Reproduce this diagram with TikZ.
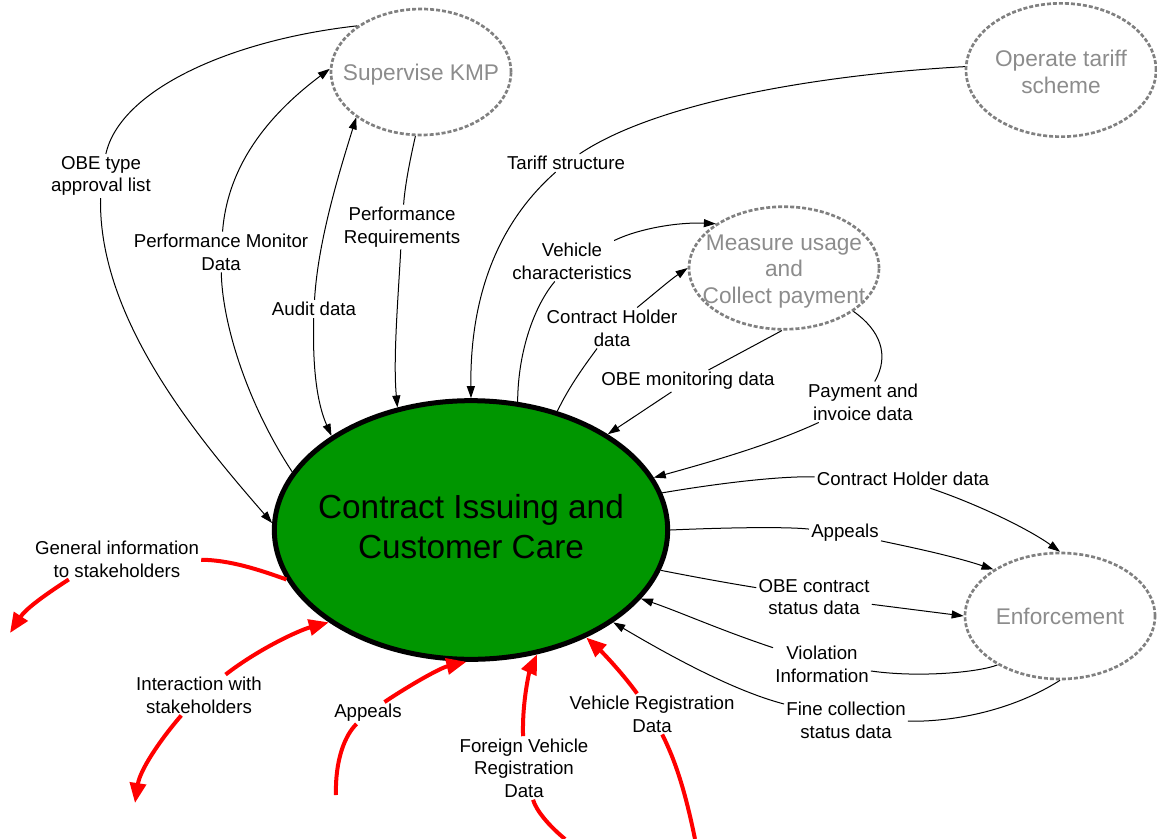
\documentclass[tikz,border=0pt]{standalone}
\usepackage{fontspec}
\setmainfont{Liberation Sans}
\usetikzlibrary{shapes.geometric,arrows.meta}
\definecolor{procgreen}{RGB}{0,150,0}
\definecolor{extgray}{RGB}{128,128,128}
\definecolor{exttext}{RGB}{140,140,140}
\newcommand{\inbox}[1]{\makebox[0pt]{\begin{tabular}{@{}c@{}}#1\end{tabular}}}
\newcommand{\extbox}[1]{\inbox{\rule{0pt}{19pt}#1}}
\tikzstyle{proc}=[draw, ellipse, line width=3.75pt, fill=procgreen, inner sep=0pt, minimum width=295pt, minimum height=194pt, font=\fontsize{25}{30}\selectfont]
\tikzstyle{ext}=[draw=extgray, ellipse, line width=2pt, dash pattern=on 3pt off 1.5pt, text=exttext, inner sep=0pt, minimum width=142.5pt, font=\fontsize{17}{20}\selectfont]
\tikzstyle{lab}=[inner sep=1.5pt, align=center, font=\fontsize{14}{17}\selectfont]
\tikzstyle{flow}=[line width=0.75pt]
\tikzstyle{rflow}=[red, line width=3pt, >={Triangle[length=15pt,width=12pt]}]

\begin{document}
\begin{tikzpicture}[x=0.75pt,y=0.75pt,>={Triangle[length=9pt,width=6pt]}]
\useasboundingbox (0,0) rectangle (1157,-839);

% processes
\node[proc] (main) at (471,-530) {\inbox{Contract Issuing and\\Customer Care}};
\node[ext, minimum width=135pt, minimum height=94.5pt] (kmp) at (421,-72) {\extbox{Supervise KMP}};
\node[ext, minimum height=100pt] (tariff) at (1061,-70) {\inbox{\rule{0pt}{21pt}Operate tariff\\scheme}};
\node[ext, minimum height=91pt] (meas) at (784,-268) {\extbox{Measure usage\\and\\Collect payment}};
\node[ext, minimum height=94.5pt] (enf) at (1060,-616) {\extbox{Enforcement}};

% flow labels
\node[lab] (lobe) at (101,-176) {OBE type\\approval list};
\node[lab] (lpmd) at (221,-252) {Performance Monitor\\Data};
\node[lab] (laud) at (314,-309) {Audit data};
\node[lab] (lpreq) at (402,-227) {Performance\\Requirements};
\node[lab] (ltar) at (566,-163) {Tariff structure};
\node[lab] (lveh) at (572,-261) {Vehicle\\characteristics};
\node[lab] (lchm) at (612,-328) {Contract Holder\\data};
\node[lab] (lobem) at (688,-381) {OBE monitoring data};
\node[lab] (lpay) at (863,-402) {Payment and\\invoice data};
\node[lab] (lche) at (903,-479) {Contract Holder data};
\node[lab] (lape) at (845,-533) {Appeals};
\node[lab] (lobec) at (814,-597) {OBE contract\\status data};
\node[lab] (lvio) at (822,-664) {Violation\\Information};
\node[lab] (lfine) at (846,-720) {Fine collection\\status data};
\node[lab] (lgen) at (117,-559) {General information\\to stakeholders};
\node[lab] (lint) at (199,-695) {Interaction with\\stakeholders};
\node[lab] (lapb) at (368,-713) {Appeals};
\node[lab] (lfor) at (524,-768) {Foreign Vehicle\\Registration\\Data};
\node[lab] (lvrd) at (652,-714) {Vehicle Registration\\Data};

% free ends
\coordinate (gend) at (10,-633);
\coordinate (intend) at (135,-803);
\coordinate (apend) at (336,-795);
\coordinate (forend) at (565,-839);
\coordinate (vrdend) at (695,-839);

% KMP flows
\draw[flow] (kmp.144) .. controls (230,-40) and (120,-90) .. (lobe);
\draw[flow,->] (lobe) .. controls (98,-320) and (200,-440) .. (main.178);
\draw[flow] (main.162) .. controls (245,-400) and (222,-320) .. (lpmd);
\draw[flow,->] (lpmd) .. controls (228,-160) and (275,-110) .. (kmp.178);
\draw[flow,->] (laud) .. controls (318,-240) and (340,-170) .. (kmp.215);
\draw[flow,->] (laud) .. controls (312,-380) and (320,-410) .. (main.146);
\draw[flow] (kmp.265) .. controls (410,-160) and (405,-185) .. (lpreq);
\draw[flow,->] (lpreq) .. controls (398,-300) and (393,-360) .. (main.121);

% tariff and measure flows
\draw[flow] (tariff.178) .. controls (830,-74) and (660,-100) .. (ltar);
\draw[flow,->] (ltar) .. controls (490,-230) and (470,-310) .. (main.90);
\draw[flow] (main.70) .. controls (518,-350) and (535,-305) .. (lveh);
\draw[flow,->] (lveh) .. controls (640,-228) and (680,-222) .. (meas.147);
\draw[flow] (main.54) .. controls (570,-385) and (585,-365) .. (lchm);
\draw[flow,->] (lchm) .. controls (655,-293) and (670,-280) .. (meas.180);
\draw[flow] (meas.268) -- (lobem);
\draw[flow,->] (lobem) -- (main.35);
\draw[flow] (meas.-32) .. controls (880,-330) and (890,-355) .. (lpay);
\draw[flow,->] (lpay) .. controls (770,-445) and (710,-462) .. (main.16);

% enforcement flows
\draw[flow] (main.11) .. controls (720,-483) and (780,-476) .. (lche);
\draw[flow,->] (lche) .. controls (980,-505) and (1030,-530) .. (enf.90);
\draw[flow] (main.0) .. controls (740,-527) and (790,-527) .. (lape);
\draw[flow,->] (lape) .. controls (900,-545) and (950,-555) .. (enf.145);
\draw[flow] (main.-12) .. controls (710,-580) and (740,-585) .. (lobec);
\draw[flow,->] (lobec) -- (enf.180);
\draw[flow] (enf.218) .. controls (980,-672) and (920,-678) .. (lvio);
\draw[flow,->] (lvio) .. controls (720,-630) and (680,-612) .. (main.-22);
\draw[flow] (enf.270) .. controls (1010,-712) and (950,-722) .. (lfine);
\draw[flow,->] (lfine) .. controls (730,-690) and (660,-650) .. (main.-33);

% stakeholder flows
\draw[rflow] (main.195) .. controls (260,-570) and (230,-560) .. (lgen);
\draw[rflow,->] (lgen.203) .. controls (40,-598) and (25,-610) .. (gend);
\draw[rflow,->] (lint) .. controls (260,-648) and (300,-630) .. (main.213);
\draw[rflow,->] (lint) .. controls (160,-740) and (140,-770) .. (intend);
\draw[rflow] (apend) .. controls (335,-760) and (345,-735) .. (lapb);
\draw[rflow,->] (lapb) .. controls (410,-685) and (440,-668) .. (main.268);
\draw[rflow] (forend) .. controls (548,-825) and (536,-810) .. (lfor);
\draw[rflow,->] (lfor) .. controls (522,-700) and (530,-670) .. (main.-62);
\draw[rflow] (vrdend) .. controls (685,-790) and (675,-760) .. (lvrd);
\draw[rflow,->] (lvrd) .. controls (620,-670) and (600,-650) .. (main.-43);
\end{tikzpicture}
\end{document}
